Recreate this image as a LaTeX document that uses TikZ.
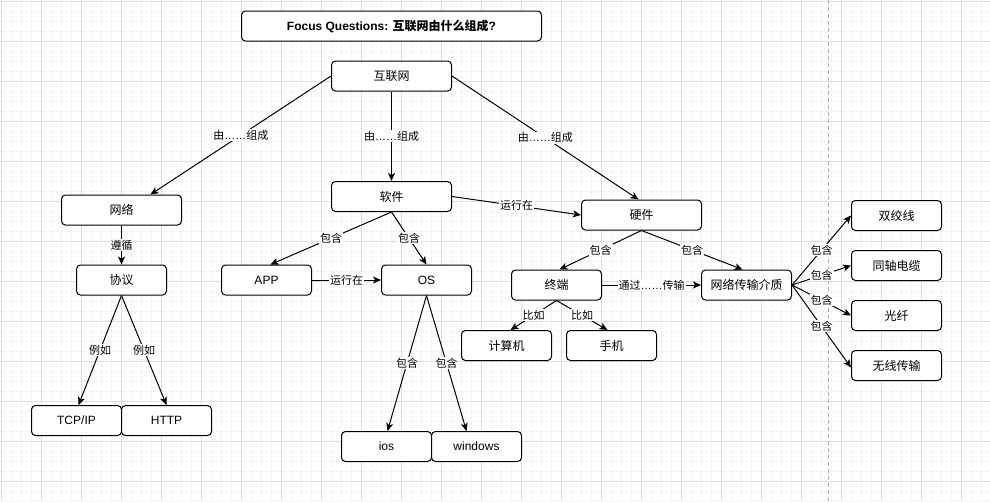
\documentclass[tikz,border=0pt]{standalone}
\usepackage{fontspec}
\setmainfont{Liberation Sans}
\newfontfamily\cjk{Noto Sans CJK SC}
\usetikzlibrary{arrows.meta}
\definecolor{gridmajor}{RGB}{222,222,222}
\definecolor{gridminor}{RGB}{244,244,244}
\definecolor{dashgray}{RGB}{175,175,175}
\begin{document}
\begin{tikzpicture}[x=1pt,y=-1pt,
  box/.style={draw, line width=1pt, rounded corners=4pt, minimum width=#1, minimum height=30pt, inner sep=0pt, fill=white, font=\fontsize{12}{14}\selectfont},
  box/.default=90pt,
  conn/.style={draw, line width=1pt, -{Stealth[length=8pt,width=7pt,inset=2pt]}},
  lbl/.style={fill=white, inner sep=1pt, font=\fontsize{11}{13}\selectfont},
  minorline/.style={draw=gridminor, line width=1pt},
  majorline/.style={draw=gridmajor, line width=1pt},
]
\useasboundingbox (0,0) rectangle (990,501);
\fill[white] (0,0) rectangle (990,501);
% grid
\foreach \i in {0,...,98} {\draw[minorline] ({1.5+10*\i},0) -- ({1.5+10*\i},501);}
\foreach \i in {0,...,50} {\draw[minorline] (0,{1.5+10*\i}) -- (990,{1.5+10*\i});}
\foreach \i in {0,...,24} {\draw[majorline] ({1.5+40*\i},0) -- ({1.5+40*\i},501);}
\foreach \i in {0,...,12} {\draw[majorline] (0,{1.5+40*\i}) -- (990,{1.5+40*\i});}
\draw[dashgray, line width=1pt, dash pattern=on 4pt off 3pt] (828.5,0) -- (828.5,501);

% nodes
\node[box=300pt, font=\bfseries\fontsize{12}{14}\selectfont] (title) at (391.5,26) {Focus Questions: {\cjk\bfseries 互联网由什么组成}?};
\node[box=120pt] (hl) at (391.5,76) {\cjk 互联网};
\node[box=120pt] (net) at (121.5,210) {\cjk 网络};
\node[box] (xy) at (121.5,280) {\cjk 协议};
\node[box] (tcp) at (76.5,420.5) {TCP/IP};
\node[box] (http) at (166.5,420.5) {HTTP};
\node[box=120pt] (sw) at (391.5,196.5) {\cjk 软件};
\node[box] (app) at (266.5,280) {APP};
\node[box] (os) at (426.5,280) {OS};
\node[box] (ios) at (386.5,446.5) {ios};
\node[box] (win) at (476.5,446.5) {windows};
\node[box=120pt] (hw) at (641.5,215) {\cjk 硬件};
\node[box] (zd) at (556.5,285) {\cjk 终端};
\node[box] (md) at (746.5,285) {\cjk 网络传输介质};
\node[box] (pc) at (506.5,345.5) {\cjk 计算机};
\node[box] (ph) at (611.5,345.5) {\cjk 手机};
\node[box] (sj) at (896.5,215.5) {\cjk 双绞线};
\node[box] (tz) at (896.5,265.5) {\cjk 同轴电缆};
\node[box] (gx) at (896.5,315.5) {\cjk 光纤};
\node[box] (wx) at (896.5,365.5) {\cjk 无线传输};

% connectors
\draw[conn] (hl.west) -- node[lbl]{{\cjk 由}……{\cjk 组成}} ([xshift=29pt]net.north);
\draw[conn] (hl.south) -- node[lbl]{{\cjk 由}……{\cjk 组成}} (sw.north);
\draw[conn] (hl.east) -- node[lbl]{{\cjk 由}……{\cjk 组成}} ([xshift=-3pt]hw.north);
\draw[conn] (net.south) -- node[lbl]{\cjk 遵循} (xy.north);
\draw[conn] (xy.south) -- node[lbl]{\cjk 例如} ([xshift=2pt]tcp.north);
\draw[conn] (xy.south) -- node[lbl]{\cjk 例如} (http.north);
\draw[conn] (sw.south) -- node[lbl]{\cjk 包含} ([xshift=4pt]app.north);
\draw[conn] (sw.south) -- node[lbl]{\cjk 包含} (os.north);
\draw[conn] (sw.east) -- node[lbl]{\cjk 运行在} (hw.west);
\draw[conn] (app.east) -- node[lbl]{\cjk 运行在} (os.west);
\draw[conn] (os.south) -- node[lbl]{\cjk 包含} ([xshift=1pt]ios.north);
\draw[conn] (os.south) -- node[lbl]{\cjk 包含} ([xshift=-10pt]win.north);
\draw[conn] (hw.south) -- node[lbl]{\cjk 包含} ([xshift=3pt]zd.north);
\draw[conn] (hw.south) -- node[lbl]{\cjk 包含} ([xshift=-4pt]md.north);
\draw[conn] (zd.east) -- node[lbl]{{\cjk 通过}……{\cjk 传输}} (md.west);
\draw[conn] (zd.south) -- node[lbl]{\cjk 比如} ([xshift=4pt]pc.north);
\draw[conn] (zd.south) -- node[lbl]{\cjk 比如} ([xshift=-4pt]ph.north);
\draw[conn] (md.east) -- node[lbl]{\cjk 包含} (sj.west);
\draw[conn] (md.east) -- node[lbl]{\cjk 包含} (tz.west);
\draw[conn] (md.east) -- node[lbl]{\cjk 包含} (gx.west);
\draw[conn] (md.east) -- node[lbl]{\cjk 包含} ([yshift=-2pt]wx.west);
\end{tikzpicture}
\end{document}
